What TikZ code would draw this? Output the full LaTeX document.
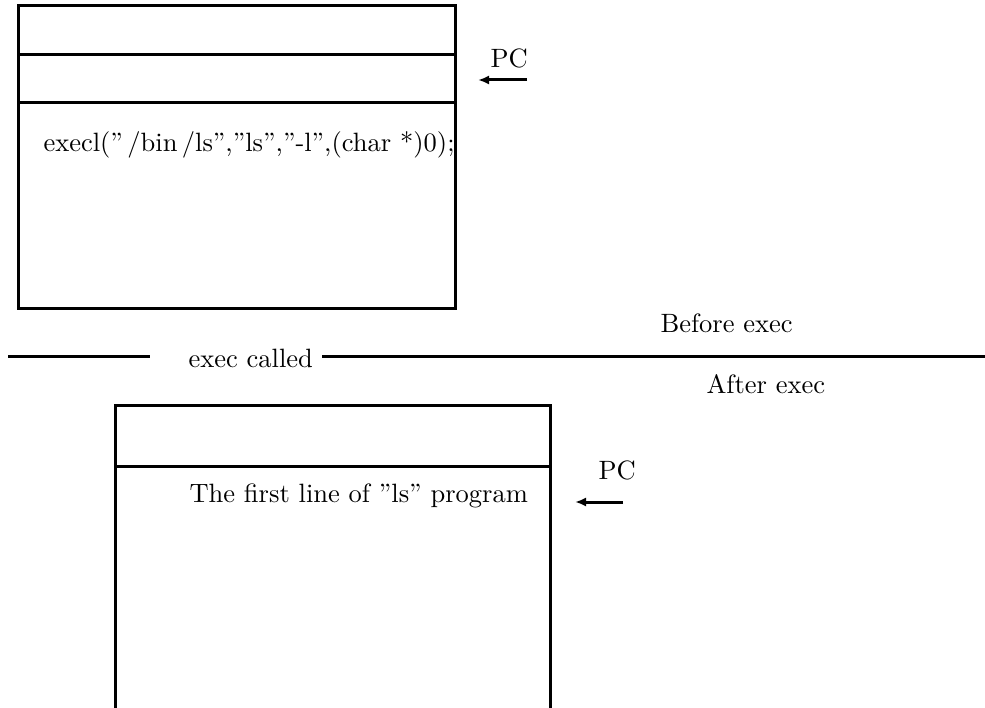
\documentclass[tikz,border=0pt]{standalone}
\usetikzlibrary{arrows.meta}
\begin{document}
\begin{tikzpicture}[x=1pt,y=-1pt,
  frame/.style={line width=3pt},
  sep/.style={line width=3pt},
  label/.style={inner sep=0pt,font=\fontsize{10}{12}\selectfont,scale=2.65},
  pcarrow/.style={line width=3pt,-{Latex[length=11pt,width=9pt]}}]
\useasboundingbox (0,0) rectangle (985,708);

% process image before the call
\draw[frame] (18,6) rectangle (455,309);
\draw[frame] (18,55) -- (455,55);
\draw[frame] (18,103) -- (455,103);
\node[label,anchor=base west] (code) at (43,152) {execl(''\,/bin\,/ls'',''ls'',''-l'',(char *)0);};
\node[label,anchor=base west] (pc1) at (490,68) {PC};
\coordinate (pc1from) at (527,80);
\coordinate (pc1to) at (478,80);
\draw[pcarrow] (pc1from) -- (pc1to);

% dividing line
\node[label,anchor=base west] (called) at (188,368) {exec called};
\coordinate (sepL1) at (8,357);
\coordinate (sepL2) at (150,357);
\coordinate (sepR1) at (322,357);
\coordinate (sepR2) at (985,357);
\draw[sep] (sepL1) -- (sepL2);
\draw[sep] (sepR1) -- (sepR2);
\node[label,anchor=base west] (before) at (660,333) {Before exec};
\node[label,anchor=base west] (after) at (706,394) {After exec};

% process image after the call
\draw[frame] (115,708) -- (115,405) -- (550,405) -- (550,708);
\draw[frame] (115,466) -- (550,466);
\node[label,anchor=base west] (first) at (189,502) {The first line of ''ls'' program};
\node[label,anchor=base west] (pc2) at (598,479) {PC};
\coordinate (pc2from) at (623,502);
\coordinate (pc2to) at (575,502);
\draw[pcarrow] (pc2from) -- (pc2to);
\end{tikzpicture}
\end{document}
